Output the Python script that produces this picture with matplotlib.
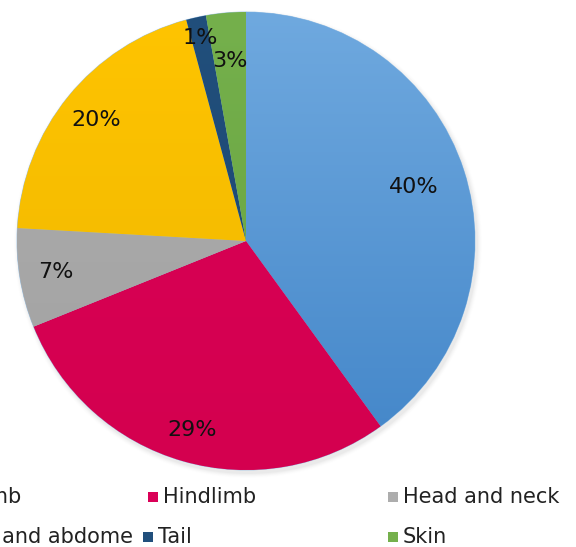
import numpy as np
import matplotlib
matplotlib.use("Agg")
import matplotlib.pyplot as plt
from matplotlib.patches import Rectangle, Circle
from matplotlib.colors import LinearSegmentedColormap

categories = ["Forelimb", "Hindlimb", "Head and neck", "Thorax and abdome", "Tail", "Skin"]
values = [40.0, 28.9, 7.0, 19.9, 1.4, 2.8]
top_colors = ["#6FA9DF", "#DA0057", "#ADADAD", "#FFC400", "#214F7C", "#75B04C"]
bottom_colors = ["#4285C8", "#D4004F", "#A2A2A2", "#EDB600", "#1C4670", "#66A23F"]
label_dist = [0.77, 0.86, 0.84, 0.84, 0.91, 0.79]

W, H = 576, 547
fig = plt.figure(figsize=(W / 100, H / 100), dpi=100)
ax = fig.add_axes([0, 0, 1, 1])
ax.set_xlim(0, W)
ax.set_ylim(0, H)
ax.set_aspect("equal")
ax.axis("off")

cx, cy, R = 246, H - 241, 229

# soft shadow
for i, a in enumerate(np.linspace(0.05, 0.01, 5)):
    ax.add_patch(Circle((cx + 2, cy - 3), R + 1 + i, color="#888888", alpha=a, lw=0, zorder=0))

wedges, texts, autotexts = ax.pie(
    values, center=(cx, cy), radius=R, startangle=90, counterclock=False,
    autopct=lambda p: f"{p:.0f}%", pctdistance=0.8,
    wedgeprops=dict(linewidth=0.6, edgecolor="#9CC3E6"),
    textprops=dict(fontsize=16, color="#111111", family="DejaVu Sans"),
    frame=True,
)
ax.set_xlim(0, W)
ax.set_ylim(0, H)
ax.axis("off")

for w, t0, t1 in zip(wedges, top_colors, bottom_colors):
    cmap = LinearSegmentedColormap.from_list("g", [t1, t0])
    grad = np.linspace(0, 1, 256).reshape(-1, 1)
    im = ax.imshow(grad, cmap=cmap, origin="lower", aspect="auto",
                   extent=(cx - R, cx + R, cy - R, cy + R), zorder=1)
    im.set_clip_path(w)
    w.set_facecolor(t0)

for w, t, d in zip(wedges, autotexts, label_dist):
    ang = np.deg2rad((w.theta1 + w.theta2) / 2)
    t.set_position((cx + d * R * np.cos(ang), cy + d * R * np.sin(ang)))
    t.set_zorder(5)

# legend (Excel-style grid, left part cropped as in the reference)
entry_x = [-84, 148, 388, -92, 143, 388]
row_y = [H - 497, H - 537]
for i, (name, col) in enumerate(zip(categories, top_colors)):
    r = i // 3
    x = entry_x[i]
    y = row_y[r]
    ax.add_patch(Rectangle((x, y - 5), 10, 10, color=col, lw=0, clip_on=False))
    ax.text(x + 15, y, name, fontsize=15, va="center", ha="left", color="#222222",
            family="DejaVu Sans", clip_on=False)

fig.savefig("out.png", dpi=100)
